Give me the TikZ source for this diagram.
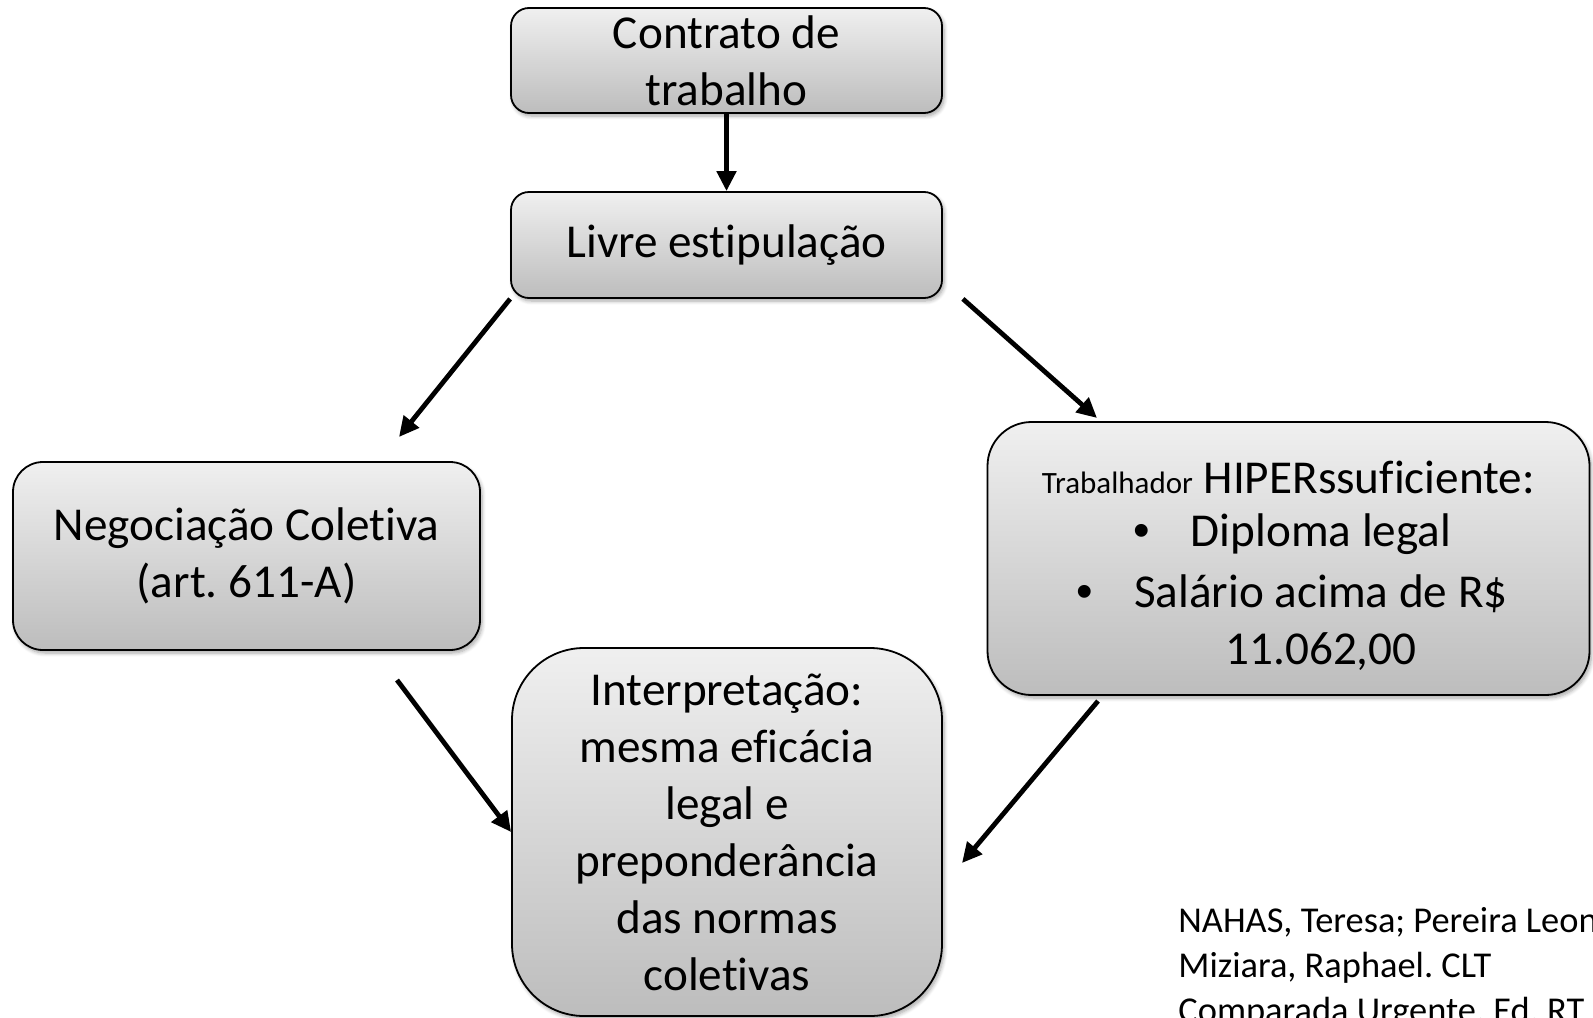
\documentclass[tikz,border=0pt]{standalone}
\usepackage{fontspec}
\setmainfont{Carlito}[Ligatures=NoCommon]
\newfontfamily\arialf{Liberation Sans}
\usetikzlibrary{arrows.meta}
\usetikzlibrary{shadows.blur}

\begin{document}
\begin{tikzpicture}[x=0.5pt,y=-0.5pt,>/.tip={Triangle[length=10pt,width=9.5pt]},
	caixa/.style={draw,line width=0.9pt,top color=black!6,bottom color=black!26,align=center,inner sep=0pt,
		font=\fontsize{23.6pt}{28.5pt}\selectfont\frenchspacing,
		blur shadow={shadow xshift=1pt,shadow yshift=-1.5pt,shadow blur steps=6,shadow opacity=35}},
	seta/.style={line width=2.4pt}]
	\clip (0,0) rectangle (1593,1017);
	\draw (726.5,60.5) node (contrato) [caixa,minimum width=215.5pt,minimum height=52.5pt,rounded corners=9pt] {Contrato de\\trabalho};
	\draw (726.5,245) node (livre) [caixa,minimum width=215.5pt,minimum height=53pt,rounded corners=9pt] {Livre estipulação};
	\draw (246.5,556) node (neg) [caixa,minimum width=233.5pt,minimum height=94pt,rounded corners=15pt] {Negociação Coletiva\\(art. 611-A)};
	\draw (1288.5,558.5) node (trab) [caixa,minimum width=301pt,minimum height=136.5pt,rounded corners=22pt]
		{\rule{0pt}{24pt}\mbox{{\fontsize{15.5pt}{18pt}\selectfont Trabalhador} HIPERssuficiente:}\\[-2pt]
		\mbox{\hspace{32.5pt}\llap{{\arialf\textbullet}\hspace{20.5pt}}Diploma legal}\\[2pt]
		\mbox{\hspace{32.5pt}\llap{{\arialf\textbullet}\hspace{20.5pt}}Salário acima de R\$}\\
		\mbox{\hspace{32.5pt}11.062,00}};
	\draw (727,832) node (interp) [caixa,minimum width=215pt,minimum height=184pt,rounded corners=36pt]
		{Interpretação:\\mesma eficácia\\legal e\\preponderância\\das normas\\coletivas};
	\node (ref) [anchor=base west,align=left,inner sep=0pt,font=\fontsize{18.2pt}{22.5pt}\selectfont\frenchspacing] at (1178,1022)
		{NAHAS, Teresa; Pereira Leon\\Miziara, Raphael. CLT\\Comparada Urgente. Ed. RT};
	% pontas livres das setas
	\coordinate (negIn) at (399,437);
	\coordinate (trabIn) at (1097,418);
	\coordinate (negOut) at (397,680);
	\coordinate (trabOut) at (1098,701);
	\coordinate (interpIn) at (962,863);
	\path[->,seta] (contrato) edge (livre);
	\path[->,seta] (livre.south west) edge (negIn);
	\path[->,seta] ([xshift=10pt]livre.south east) edge (trabIn);
	\path[->,seta] (negOut) edge (interp.west);
	\path[->,seta] (trabOut) edge (interpIn);
\end{tikzpicture}
\end{document}
